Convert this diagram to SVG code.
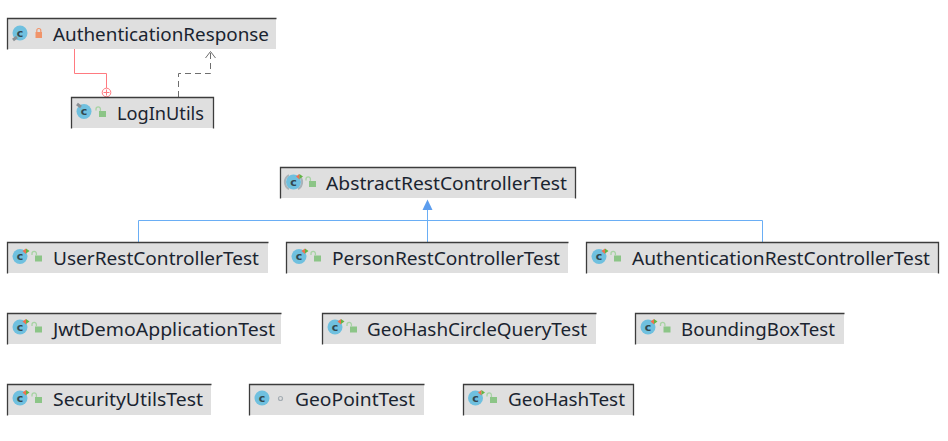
<svg xmlns="http://www.w3.org/2000/svg" width="948" height="441" viewBox="0 0 948 441">
<style>
.b{fill:#dfdfdf}
.e{fill:none;stroke:#3c3c3c;stroke-width:1.3}
.t{font-family:"Noto Sans",sans-serif;font-size:18.5px;fill:#1a2430}
.c{fill:#6fc0df}
.l{font-family:"DejaVu Sans",sans-serif;font-size:11px;font-weight:bold;fill:#33474f;text-anchor:middle}
.g{fill:#8cc587}
.gs{fill:none;stroke:#a8d3a4;stroke-width:1.3}
.a{fill:#ee7050}
.a2{fill:#62b543}
</style>
<defs>
<g id="run"><circle class="c" cx="0" cy="0" r="7.500"/><text class="l" x="0" y="3.800">c</text><path class="a" d="M2.500 -5.500l3.500 -2.500v5.500z"/><path class="a2" d="M6 -8l3.500 2.500l-3.500 2.500z"/></g>
<g id="open"><rect class="g" x="0" y="0" width="7" height="6"/><path class="gs" d="M-3 -0.500v-1.500a2.200 2.200 0 0 1 4.400 0v2"/></g>
</defs>
<g id="connectors" fill="none">
<path d="M74.500 49V73.500H106.500V88" stroke="#ff7a80" stroke-width="1"/>
<circle cx="106.500" cy="92.500" r="4.300" stroke="#ff7a80" stroke-width="1" fill="#fff"/>
<path d="M103.500 92.500h6M106.500 89.500v6" stroke="#ff7a80" stroke-width="1"/>
<path d="M178.500 97V73.500H210.500V52" stroke="#6e6e6e" stroke-width="1" stroke-dasharray="6 4"/>
<path d="M205.500 58L210.500 51.500L215.500 58" stroke="#6e6e6e" stroke-width="1"/>
<path d="M138.500 242V220.500H762.500V242" stroke="#6aaef5" stroke-width="1"/>
<path d="M427.500 242V205" stroke="#6aaef5" stroke-width="1"/>
<path d="M427.500 199.500L422.500 210H432.500Z" fill="#5c9dee"/>
</g>
<g id="n1"><rect class="b" x="7" y="18" width="269" height="31"/><path class="e" d="M7.500 49.500V18.500H276.500"/><circle class="c" cx="20" cy="33" r="7.500"/><text class="l" x="20" y="36.800">c</text><path d="M13 40l4 -3" stroke="#8a8f94" stroke-width="3"/><path fill="#f0946a" d="M35.500 32h6.500v6h-6.500z"/><path d="M36.800 32v-1.500a2 2 0 0 1 4 0v1.500" fill="none" stroke="#f0946a" stroke-width="1.200"/><text class="t" x="53" y="40.700" textLength="216" lengthAdjust="spacingAndGlyphs">AuthenticationResponse</text></g>
<g id="n2"><rect class="b" x="71" y="97" width="143" height="31"/><path class="e" d="M71.500 128.500V97.500H213.500V128.500"/><circle class="c" cx="84" cy="111.500" r="7.500"/><text class="l" x="84" y="115.300">c</text><path d="M77 104l4 3" stroke="#8a8f94" stroke-width="3"/><use href="#open" x="99" y="111"/><text class="t" x="117" y="119.700" textLength="87" lengthAdjust="spacingAndGlyphs">LogInUtils</text></g>
<g id="n3"><rect class="b" x="280" y="167" width="296" height="31"/><path class="e" d="M280.500 198.500V167.500H575.500V198.500"/><path d="M289 175a8 8 0 0 0 0 14M298 175a8 8 0 0 1 0 14" fill="none" stroke="#a9b2b7" stroke-width="2"/><use href="#run" x="293.500" y="182"/><use href="#open" x="309" y="181"/><text class="t" x="326" y="189.700" textLength="241" lengthAdjust="spacingAndGlyphs">AbstractRestControllerTest</text></g>
<g id="n4"><rect class="b" x="7" y="242" width="261" height="31"/><path class="e" d="M7.500 273.500V242.500H268.500"/><use href="#run" x="20" y="256.500"/><use href="#open" x="35" y="255.500"/><text class="t" x="53" y="264.700" textLength="206" lengthAdjust="spacingAndGlyphs">UserRestControllerTest</text></g>
<g id="n5"><rect class="b" x="286" y="242" width="282" height="31"/><path class="e" d="M286.500 273.500V242.500H568.500"/><use href="#run" x="299" y="256.500"/><use href="#open" x="314" y="255.500"/><text class="t" x="332" y="264.700" textLength="228" lengthAdjust="spacingAndGlyphs">PersonRestControllerTest</text></g>
<g id="n6"><rect class="b" x="586" y="242" width="353" height="31"/><path class="e" d="M586.500 273.500V242.500H938.500V273.500"/><use href="#run" x="599" y="256.500"/><use href="#open" x="614" y="255.500"/><text class="t" x="632" y="264.700" textLength="298" lengthAdjust="spacingAndGlyphs">AuthenticationRestControllerTest</text></g>
<g id="n7"><rect class="b" x="7" y="313" width="274" height="31"/><path class="e" d="M7.500 344.500V313.500H281.500"/><use href="#run" x="20" y="327"/><use href="#open" x="35" y="326.500"/><text class="t" x="53" y="335.500" textLength="222" lengthAdjust="spacingAndGlyphs">JwtDemoApplicationTest</text></g>
<g id="n8"><rect class="b" x="322" y="313" width="274" height="31"/><path class="e" d="M322.500 344.500V313.500H596.500"/><use href="#run" x="335" y="327"/><use href="#open" x="350" y="326.500"/><text class="t" x="367" y="335.500" textLength="220" lengthAdjust="spacingAndGlyphs">GeoHashCircleQueryTest</text></g>
<g id="n9"><rect class="b" x="635" y="313" width="209" height="31"/><path class="e" d="M635.500 344.500V313.500H844.500"/><use href="#run" x="648" y="327"/><use href="#open" x="663.500" y="326.500"/><text class="t" x="681" y="335.500" textLength="154" lengthAdjust="spacingAndGlyphs">BoundingBoxTest</text></g>
<g id="n10"><rect class="b" x="7" y="384" width="204" height="31"/><path class="e" d="M7.500 415.500V384.500H211.500"/><use href="#run" x="20" y="398"/><use href="#open" x="35" y="397"/><text class="t" x="53" y="406" textLength="150" lengthAdjust="spacingAndGlyphs">SecurityUtilsTest</text></g>
<g id="n11"><rect class="b" x="249" y="384" width="175" height="31"/><path class="e" d="M249.500 415.500V384.500H424.500"/><circle class="c" cx="262" cy="398" r="7.500"/><text class="l" x="262" y="401.800">c</text><circle cx="280.500" cy="398.500" r="2" fill="none" stroke="#a5adb3" stroke-width="1.200"/><text class="t" x="295" y="406" textLength="120" lengthAdjust="spacingAndGlyphs">GeoPointTest</text></g>
<g id="n12"><rect class="b" x="463" y="384" width="171" height="31"/><path class="e" d="M463.500 415.500V384.500H633.500V415.500"/><use href="#run" x="475.500" y="398"/><use href="#open" x="490" y="397"/><text class="t" x="508" y="406" textLength="117" lengthAdjust="spacingAndGlyphs">GeoHashTest</text></g>
</svg>
